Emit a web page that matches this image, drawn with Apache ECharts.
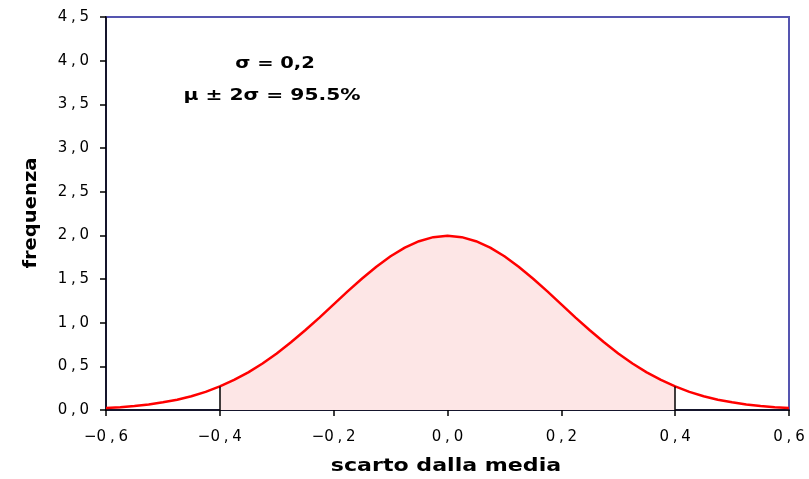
<!DOCTYPE html>
<html><head><meta charset="utf-8">
<script src="https://cdn.jsdelivr.net/npm/echarts@6/dist/echarts.min.js"></script>
<style>html,body{margin:0;padding:0;background:#fff}#c{width:809px;height:479px}</style>
</head><body><div id="c"></div>
<script>
const xValues = [-0.6,-0.575,-0.55,-0.525,-0.5,-0.475,-0.45,-0.425,-0.4,-0.375,-0.35,-0.325,-0.3,-0.275,-0.25,-0.225,-0.2,-0.175,-0.15,-0.125,-0.1,-0.075,-0.05,-0.025,0,
  0.025,0.05,0.075,0.1,0.125,0.15,0.175,0.2,0.225,0.25,0.275,0.3,0.325,0.35,0.375,0.4,0.425,0.45,0.475,0.5,0.525,0.55,0.575,0.6];
const yValues = [0.022,0.032,0.045,0.064,0.088,0.118,0.158,0.208,0.270,0.344,0.431,0.533,0.648,0.775,0.913,1.058,1.210,1.361,1.506,1.641,1.760,1.859,1.933,1.979,1.995,
  1.979,1.933,1.859,1.760,1.641,1.506,1.361,1.210,1.058,0.913,0.775,0.648,0.533,0.431,0.344,0.270,0.208,0.158,0.118,0.088,0.064,0.045,0.032,0.022];
const shadeFrom = -0.4, shadeTo = 0.4;
const annotationLines = ['σ = 0,2', 'μ ± 2σ = 95.5%'];
const yTitle = 'frequenza';
const xTitle = 'scarto dalla media';

const curve = xValues.map((x,i)=>[x,yValues[i]]);
const shaded = curve.filter(p=>p[0]>=shadeFrom-1e-9 && p[0]<=shadeTo+1e-9);
const yAt = x => yValues[xValues.findIndex(v=>Math.abs(v-x)<1e-9)];

const chart = echarts.init(document.getElementById('c'));
const fmt = v => {
  const s = (Math.round(v*10)/10).toFixed(1).replace('-','\u2212');
  const [a,b] = s.split('.');
  return a + '\u2005,\u2005' + b;
};
const titleFont = {fontFamily:'DejaVu Sans',fontWeight:'bold',fill:'#000',align:'center',verticalAlign:'middle'};
chart.setOption({
  animation:false,
  grid:{left:106,right:20,top:17,bottom:69,containLabel:false,outerBoundsMode:'none',show:true,borderColor:'#5555b0',borderWidth:2,backgroundColor:'#fff'},
  xAxis:{type:'value',min:-0.6,max:0.6,interval:0.2,
    axisLine:{onZero:false,lineStyle:{color:'#000',width:1.5}},
    axisTick:{show:true,length:6,lineStyle:{color:'#000',width:1.5}},
    axisLabel:{formatter:fmt,fontFamily:'DejaVu Sans',fontSize:15,color:'#000',margin:20},
    splitLine:{show:false}},
  yAxis:{type:'value',min:0,max:4.5,interval:0.5,
    axisLine:{show:true,onZero:false,lineStyle:{color:'#000',width:1.5}},
    axisTick:{show:true,length:6,lineStyle:{color:'#000',width:1.5}},
    axisLabel:{formatter:fmt,fontFamily:'DejaVu Sans',fontSize:15,color:'#000',margin:17},
    splitLine:{show:false}},
  series:[
    {type:'line',data:shaded,symbol:'none',lineStyle:{width:0},areaStyle:{color:'#fde6e6',opacity:1},z:1,
     markLine:{silent:true,symbol:'none',label:{show:false},lineStyle:{color:'#000',width:1.5,type:'solid'},
       data:[[{coord:[shadeFrom,0]},{coord:[shadeFrom,yAt(shadeFrom)]}],[{coord:[shadeTo,0]},{coord:[shadeTo,yAt(shadeTo)]}]]}},
    {type:'line',data:curve,symbol:'none',smooth:false,lineStyle:{color:'#ff0000',width:2.5},z:3}
  ],
  graphic:[
    {type:'text',x:275,y:64,scaleX:1.3,style:Object.assign({text:annotationLines[0],fontSize:15},titleFont)},
    {type:'text',x:272,y:96,scaleX:1.35,style:Object.assign({text:annotationLines[1],fontSize:15},titleFont)},
    {type:'text',x:446,y:467,scaleX:1.3,style:Object.assign({text:xTitle,fontSize:17},titleFont)},
    {type:'text',x:32,y:213,rotation:Math.PI/2,scaleX:1.15,style:Object.assign({text:yTitle,fontSize:17},titleFont)}
  ]
});
</script></body></html>
